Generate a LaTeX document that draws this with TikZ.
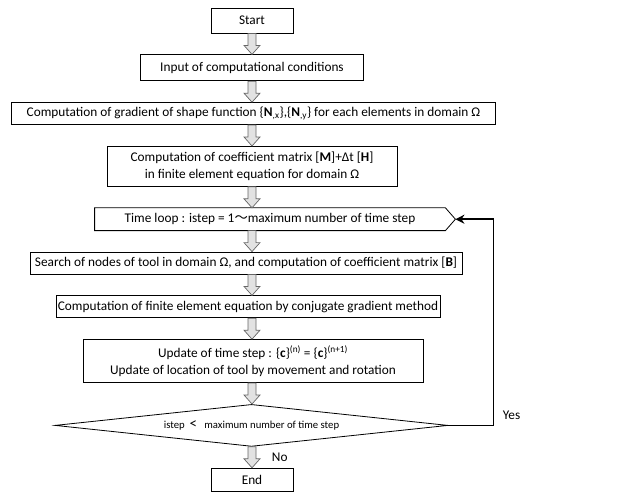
\documentclass[tikz,border=0pt]{standalone}
\usepackage{fontspec}
\setmainfont{Carlito}
\newfontfamily\cjk{Noto Sans CJK JP}
\usepackage{tikz}
\usetikzlibrary{calc,arrows.meta,positioning,shapes.geometric}
\definecolor{fc-arrowfill}{HTML}{E2E2E2}
\definecolor{fc-arrowline}{HTML}{666666}

% hollow block arrow from one box down to the next
\newcommand{\flowarrow}[2]{%
  \draw[blockarr] let \p1=(#1.south), \p2=(#2.north) in
    (252pt-4pt,\y1) -- (252pt+4pt,\y1) -- (252pt+4pt,\y2+9pt) -- (252pt+8pt,\y2+9pt)
    -- (252pt,\y2) -- (252pt-8pt,\y2+9pt) -- (252pt-4pt,\y2+9pt) -- cycle;}

\begin{document}
\begin{tikzpicture}[x=1pt, y=-1pt, node distance=21pt, >=Stealth,
    stepbox/.style={draw, line width=0.8pt, align=center, inner sep=1pt,
      minimum height=22pt, font=\fontsize{13.3}{16.5}\selectfont},
    loopbox/.style={stepbox, draw=none},
    decision/.style={draw, diamond, aspect=9, line width=0.8pt, inner sep=0pt,
      minimum width=393pt, minimum height=42pt, font=\fontsize{10.7}{12}\selectfont},
    blockarr/.style={draw=fc-arrowline, fill=fc-arrowfill, line width=0.7pt},
    loopline/.style={line width=1.8pt, line join=miter, -{Stealth[length=9pt,width=9pt]}},
    tag/.style={font=\fontsize{13.3}{15}\selectfont}]
    \useasboundingbox (0,0) rectangle (618,493);

    \node[stepbox, minimum width=82pt, minimum height=25pt] (start) at (252,20.5) {Start};
    \node[stepbox, minimum width=223pt, minimum height=26pt, below=of start] (input) {Input of computational conditions};
    \node[stepbox, minimum width=484pt, below=of input, xshift=1.5pt] (gradient)
        {Computation of gradient of shape function \{\textbf{N}\textsubscript{,x}\},\{\textbf{N}\textsubscript{,y}\} for each elements in domain Ω};
    \node[stepbox, minimum width=290pt, minimum height=40pt, below=of gradient, xshift=-1.5pt] (coeff)
        {Computation of coefficient matrix [\textbf{M}]+Δt [\textbf{H}]\\in finite element equation for domain Ω};
    \node[loopbox, minimum width=350pt, below=of coeff, xshift=18pt] (timeloop)
        {Time loop : istep = 1{\cjk 〜}maximum number of time step};
    \coordinate (looptip) at ([xshift=10pt]timeloop.east);
    \draw[line width=0.8pt] (timeloop.north west) -- (timeloop.north east) -- (looptip)
        -- (timeloop.south east) -- (timeloop.south west) -- cycle;
    \node[stepbox, minimum width=432pt, below=of timeloop, xshift=-24pt] (search)
        {Search of nodes of tool in domain Ω, and computation of coefficient matrix [\textbf{B}]};
    \node[stepbox, minimum width=384pt, below=of search, xshift=2pt] (solve)
        {Computation of finite element equation by conjugate gradient method};
    \node[stepbox, minimum width=340pt, minimum height=43pt, below=of solve, xshift=5pt] (update)
        {Update of time step : \{\textbf{c}\}\textsuperscript{(n)} = \{\textbf{c}\}\textsuperscript{(n+1)}\\Update of location of tool by movement and rotation};
    \node[decision, below=of update, xshift=-1.5pt] (check) {istep\ \ {\fontsize{15}{15}\selectfont <}\ \ \ maximum number of time step};
    \node[stepbox, minimum width=82pt, minimum height=23pt, below=of check, xshift=0.5pt] (finish) {End};

    \flowarrow{start}{input}
    \flowarrow{input}{gradient}
    \flowarrow{gradient}{coeff}
    \flowarrow{coeff}{timeloop}
    \flowarrow{timeloop}{search}
    \flowarrow{search}{solve}
    \flowarrow{solve}{update}
    \flowarrow{update}{check}
    \flowarrow{check}{finish}

    % back to the time loop
    \draw[loopline] (check.east) -- ++(45,0) coordinate (yesturn) |- (looptip);
    \node[tag, anchor=west] (yes) at ([xshift=6pt, yshift=10pt]yesturn) {Yes};
    \node[tag] (no) at ($(check.south)!0.5!(finish.north)+(28,0)$) {No};
\end{tikzpicture}
\end{document}
